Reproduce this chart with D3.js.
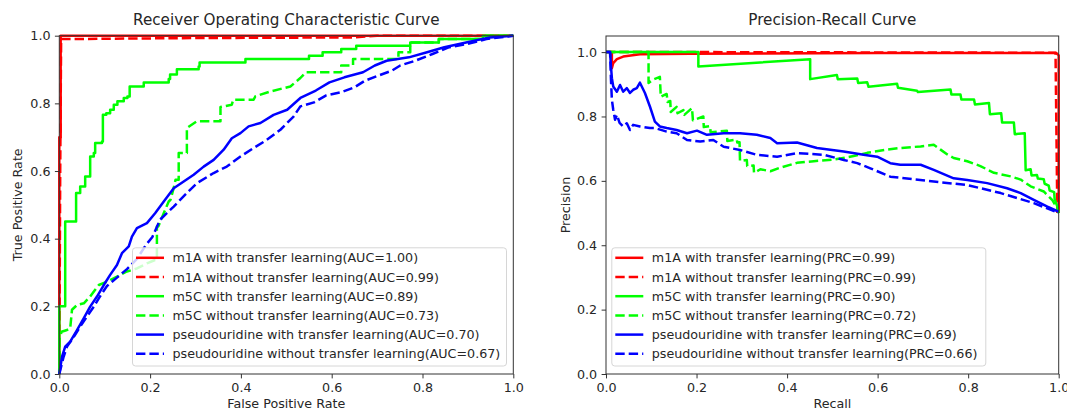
<!DOCTYPE html>
<html>
<head>
<meta charset="utf-8">
<script src="https://cdn.jsdelivr.net/npm/d3@7"></script>
<style>
  html, body { margin: 0; padding: 0; background: #fff; }
  svg { display: block; font-family: "DejaVu Sans", sans-serif; }
</style>
</head>
<body>
<svg id="chart" width="1067" height="412"></svg>
<script>
// ---- ROC curves: [false positive rate, true positive rate] ----
const rocM1aWith = [[0,0],[0,0.70],[0.003,0.70],[0.003,1],[1,1]];
const rocM1aWithout = [[0,0],[0.002,0.6],[0.004,0.99],[0.3,0.993],[0.65,0.995],[0.7,1],[1,1]];
// step curve (drawn with curveStepAfter)
const rocM5cWith = [[0,0],[0,0.2],[0.013,0.451],[0.037,0.535],[0.046,0.554],[0.057,0.584],[0.068,0.643],
  [0.076,0.653],[0.079,0.683],[0.094,0.687],[0.096,0.766],[0.1035,0.771],[0.112,0.781],[0.12,0.796],
  [0.128,0.806],[0.142,0.816],[0.15,0.82],[0.155,0.85],[0.186,0.862],[0.241,0.872],[0.244,0.885],
  [0.259,0.901],[0.307,0.909],[0.309,0.921],[0.41,0.931],[0.55,0.941],[0.58,0.951],[0.621,0.961],
  [0.654,0.97],[0.773,0.98],[0.836,0.99],[0.933,1],[1,1]];
const rocM5cWithout = [[0,0],[0,0.10],[0.005,0.125],[0.017,0.13],[0.024,0.135],[0.028,0.19],[0.039,0.204],
  [0.054,0.209],[0.068,0.229],[0.079,0.249],[0.087,0.263],[0.105,0.273],[0.127,0.288],[0.149,0.303],
  [0.171,0.312],[0.193,0.327],[0.211,0.337],[0.215,0.337],[0.215,0.436],[0.218,0.436],[0.23,0.475],
  [0.241,0.51],[0.245,0.515],[0.252,0.55],[0.256,0.574],[0.263,0.574],[0.263,0.653],[0.281,0.653],
  [0.281,0.727],[0.303,0.747],[0.355,0.747],[0.355,0.789],[0.38,0.796],[0.383,0.811],[0.428,0.811],
  [0.432,0.821],[0.465,0.835],[0.509,0.85],[0.531,0.875],[0.543,0.892],[0.621,0.892],[0.621,0.912],
  [0.647,0.912],[0.647,0.931],[0.747,0.931],[0.747,0.951],[0.773,0.951],[0.773,0.98],[0.836,0.98],
  [0.836,0.99],[0.94,0.99],[0.94,1],[1,1]];
const rocPsiWith = [[0,0],[0.006,0.051],[0.013,0.081],[0.024,0.096],[0.039,0.13],[0.054,0.165],[0.068,0.199],
  [0.083,0.229],[0.098,0.263],[0.112,0.293],[0.127,0.322],[0.138,0.357],[0.153,0.377],[0.16,0.406],
  [0.171,0.431],[0.193,0.446],[0.211,0.475],[0.222,0.495],[0.233,0.515],[0.252,0.549],[0.274,0.569],
  [0.296,0.589],[0.318,0.613],[0.34,0.633],[0.362,0.663],[0.38,0.697],[0.399,0.712],[0.417,0.732],
  [0.443,0.742],[0.472,0.766],[0.502,0.781],[0.531,0.816],[0.565,0.838],[0.595,0.862],[0.628,0.877],
  [0.669,0.892],[0.695,0.912],[0.721,0.926],[0.77,0.936],[0.81,0.951],[0.848,0.966],[0.896,0.98],
  [0.948,0.995],[1,1]];
const rocPsiWithout = [[0,0],[0.0095,0.051],[0.017,0.081],[0.032,0.11],[0.046,0.14],[0.061,0.17],[0.076,0.199],
  [0.09,0.23],[0.105,0.26],[0.127,0.285],[0.149,0.31],[0.171,0.34],[0.19,0.38],[0.205,0.405],
  [0.222,0.456],[0.252,0.495],[0.281,0.535],[0.303,0.564],[0.34,0.594],[0.369,0.613],[0.399,0.643],
  [0.428,0.668],[0.457,0.692],[0.487,0.722],[0.516,0.761],[0.531,0.791],[0.561,0.803],[0.587,0.823],
  [0.621,0.833],[0.651,0.848],[0.673,0.867],[0.703,0.882],[0.733,0.897],[0.751,0.912],[0.784,0.926],
  [0.822,0.946],[0.859,0.966],[0.896,0.975],[0.941,0.99],[1,1]];

// ---- Precision-recall curves: [recall, precision] ----
const prM1aWith = [[0,1],[0.013,1],[0.013,0.95],[0.016,0.966],[0.024,0.978],[0.038,0.986],[0.075,0.993],
  [0.186,0.995],[0.6,0.997],[0.995,0.997],[1,0.99],[1,0.5]];
const prM1aWithout = [[0,1],[0.2,1],[0.6,0.999],[0.993,0.998],[0.997,0.5]];
const prM5cWith = [[0,1],[0.204,1],[0.204,0.955],[0.451,0.978],[0.451,0.916],[0.51,0.929],[0.512,0.916],
  [0.555,0.918],[0.557,0.904],[0.577,0.906],[0.58,0.892],[0.643,0.902],[0.645,0.889],[0.687,0.88],
  [0.689,0.876],[0.761,0.884],[0.763,0.868],[0.783,0.868],[0.785,0.853],[0.813,0.853],[0.815,0.837],
  [0.846,0.842],[0.848,0.807],[0.873,0.81],[0.875,0.781],[0.901,0.781],[0.903,0.745],[0.925,0.748],
  [0.927,0.633],[0.938,0.636],[0.94,0.617],[0.952,0.618],[0.954,0.607],[0.967,0.605],[0.969,0.591],
  [0.978,0.585],[0.98,0.57],[0.99,0.565],[0.991,0.544],[0.997,0.52],[1,0.5]];
const prM5cWithout = [[0,1],[0.094,1],[0.094,0.904],[0.105,0.915],[0.119,0.923],[0.121,0.861],[0.134,0.87],
  [0.136,0.845],[0.142,0.848],[0.143,0.814],[0.156,0.83],[0.158,0.81],[0.171,0.82],[0.173,0.805],
  [0.19,0.826],[0.192,0.788],[0.215,0.8],[0.216,0.767],[0.23,0.77],[0.231,0.751],[0.267,0.756],
  [0.268,0.724],[0.289,0.728],[0.29,0.719],[0.295,0.72],[0.296,0.662],[0.311,0.665],[0.312,0.646],
  [0.326,0.648],[0.327,0.625],[0.341,0.636],[0.363,0.63],[0.385,0.641],[0.422,0.656],[0.459,0.661],
  [0.503,0.666],[0.547,0.677],[0.577,0.687],[0.621,0.697],[0.65,0.702],[0.695,0.707],[0.724,0.712],
  [0.739,0.697],[0.754,0.682],[0.768,0.671],[0.798,0.661],[0.827,0.646],[0.857,0.625],[0.894,0.614],
  [0.916,0.604],[0.938,0.583],[0.967,0.567],[0.986,0.54],[0.997,0.515],[1,0.5]];
const prPsiWith = [[0,1],[0.009,1],[0.011,0.955],[0.013,0.919],[0.016,0.893],[0.024,0.877],[0.031,0.898],
  [0.038,0.877],[0.046,0.888],[0.053,0.873],[0.06,0.883],[0.068,0.888],[0.075,0.905],[0.086,0.873],
  [0.097,0.831],[0.108,0.784],[0.119,0.769],[0.134,0.764],[0.156,0.758],[0.179,0.748],[0.201,0.756],
  [0.223,0.743],[0.26,0.748],[0.296,0.748],[0.333,0.743],[0.363,0.733],[0.378,0.717],[0.422,0.719],
  [0.466,0.702],[0.525,0.691],[0.569,0.681],[0.599,0.675],[0.628,0.655],[0.65,0.65],[0.695,0.65],
  [0.724,0.634],[0.768,0.608],[0.798,0.603],[0.842,0.593],[0.886,0.577],[0.916,0.562],[0.945,0.541],
  [0.975,0.52],[1,0.504]];
const prPsiWithout = [[0,1],[0.009,1],[0.011,0.914],[0.013,0.852],[0.016,0.821],[0.02,0.79],[0.024,0.805],
  [0.03,0.78],[0.038,0.769],[0.046,0.779],[0.053,0.758],[0.06,0.774],[0.075,0.769],[0.097,0.764],
  [0.108,0.764],[0.134,0.753],[0.156,0.748],[0.179,0.727],[0.208,0.722],[0.237,0.727],[0.26,0.706],
  [0.296,0.696],[0.333,0.681],[0.378,0.675],[0.422,0.686],[0.481,0.681],[0.525,0.665],[0.555,0.655],
  [0.584,0.639],[0.628,0.613],[0.724,0.598],[0.798,0.587],[0.872,0.562],[0.945,0.531],[1,0.5]];

// ---- labels ----
const seriesNames = ["m1A with transfer learning", "m1A without transfer learning",
  "m5C with transfer learning", "m5C without transfer learning",
  "pseudouridine with transfer learning", "pseudouridine without transfer learning"];
const aucValues = ["1.00", "0.99", "0.89", "0.73", "0.70", "0.67"];
const prcValues = ["0.99", "0.99", "0.90", "0.72", "0.69", "0.66"];
const tickValues = [0, 0.2, 0.4, 0.6, 0.8, 1.0];

const colors = ["#ff0000", "#ff0000", "#00ff00", "#00ff00", "#0000ff", "#0000ff"];
const dashed = [false, true, false, true, false, true];

const svg = d3.select("#chart");
const fmt = d3.format(".1f");
const TEXT = "#262626";
const FONT = 12.7;
const LW = 2.5;
const DASH = "9.4,4";

function drawPanel(p) {
  const x = d3.scaleLinear().domain([0, 1]).range([p.left, p.right]);
  const y = d3.scaleLinear().domain(p.yDomain).range([p.bottom, p.top]);
  const g = svg.append("g");

  // curves, in plotting order
  p.series.forEach((data, i) => {
    const line = d3.line().x(d => x(d[0])).y(d => y(d[1]))
      .curve(p.stepped[i] ? d3.curveStepAfter : d3.curveLinear);
    g.append("path").datum(data)
      .attr("d", line)
      .attr("fill", "none")
      .attr("stroke", colors[i])
      .attr("stroke-width", LW)
      .attr("stroke-linejoin", "round")
      .attr("stroke-dasharray", dashed[i] ? DASH : null);
  });

  // frame
  g.append("rect")
    .attr("x", p.left).attr("y", p.top)
    .attr("width", p.right - p.left).attr("height", p.bottom - p.top)
    .attr("fill", "none").attr("stroke", "#333").attr("stroke-width", 1);

  // axes
  const xAxis = d3.axisBottom(x).tickValues(tickValues).tickFormat(fmt)
    .tickSizeInner(4.4).tickSizeOuter(0).tickPadding(4.4);
  const yAxis = d3.axisLeft(y).tickValues(tickValues).tickFormat(fmt)
    .tickSizeInner(4.4).tickSizeOuter(0).tickPadding(4.4);
  const gx = g.append("g").attr("transform", `translate(0,${p.bottom})`).call(xAxis);
  const gy = g.append("g").attr("transform", `translate(${p.left},0)`).call(yAxis);
  [gx, gy].forEach(a => {
    a.select(".domain").remove();
    a.selectAll(".tick line").attr("stroke", "#333").attr("stroke-width", 1);
    a.selectAll(".tick text").attr("fill", TEXT)
      .style("font-family", "DejaVu Sans").style("font-size", FONT + "px");
  });

  // title and axis labels
  const cx = (p.left + p.right) / 2;
  g.append("text").attr("x", cx).attr("y", 25)
    .attr("text-anchor", "middle").attr("fill", TEXT)
    .style("font-size", "15.2px").text(p.title);
  g.append("text").attr("x", cx).attr("y", 408)
    .attr("text-anchor", "middle").attr("fill", TEXT)
    .style("font-size", FONT + "px").text(p.xLabel);
  g.append("text")
    .attr("transform", `translate(${p.yLabelX},${(p.top + p.bottom) / 2}) rotate(-90)`)
    .attr("text-anchor", "middle").attr("fill", TEXT)
    .style("font-size", FONT + "px").text(p.yLabel);

  // legend
  const lg = g.append("g");
  lg.append("rect")
    .attr("x", p.legend.x).attr("y", p.legend.y)
    .attr("width", p.legend.w).attr("height", p.legend.h)
    .attr("rx", 3).attr("ry", 3)
    .attr("fill", "#fff").attr("fill-opacity", 0.8)
    .attr("stroke", "#d6d6d6").attr("stroke-width", 1);
  seriesNames.forEach((name, i) => {
    const cy = p.legend.y + 10 + i * 19.2;
    lg.append("line")
      .attr("x1", p.legend.x + 3.5).attr("x2", p.legend.x + 31.5)
      .attr("y1", cy).attr("y2", cy)
      .attr("stroke", colors[i]).attr("stroke-width", LW)
      .attr("stroke-dasharray", dashed[i] ? DASH : null);
    lg.append("text")
      .attr("x", p.legend.x + 40).attr("y", cy)
      .attr("dominant-baseline", "central").attr("fill", TEXT)
      .style("font-size", FONT + "px")
      .text(`${name}(${p.metric}=${p.values[i]})`);
  });
}

drawPanel({
  left: 59.3, right: 513.3, top: 35.7, bottom: 374, yDomain: [0, 1],
  series: [rocM1aWith, rocM1aWithout, rocM5cWith, rocM5cWithout, rocPsiWith, rocPsiWithout],
  stepped: [false, false, true, false, false, false],
  title: "Receiver Operating Characteristic Curve",
  xLabel: "False Positive Rate", yLabel: "True Positive Rate", yLabelX: 21.5,
  metric: "AUC", values: aucValues,
  legend: { x: 132.5, y: 247.8, w: 374, h: 118.2 }
});

drawPanel({
  left: 606, right: 1058.7, top: 36, bottom: 374, yDomain: [0, 1.05],
  series: [prM1aWith, prM1aWithout, prM5cWith, prM5cWithout, prPsiWith, prPsiWithout],
  stepped: [false, false, false, false, false, false],
  title: "Precision-Recall Curve",
  xLabel: "Recall", yLabel: "Precision", yLabelX: 570,
  metric: "PRC", values: prcValues,
  legend: { x: 611.8, y: 247.8, w: 374, h: 118.2 }
});
</script>
</body>
</html>
